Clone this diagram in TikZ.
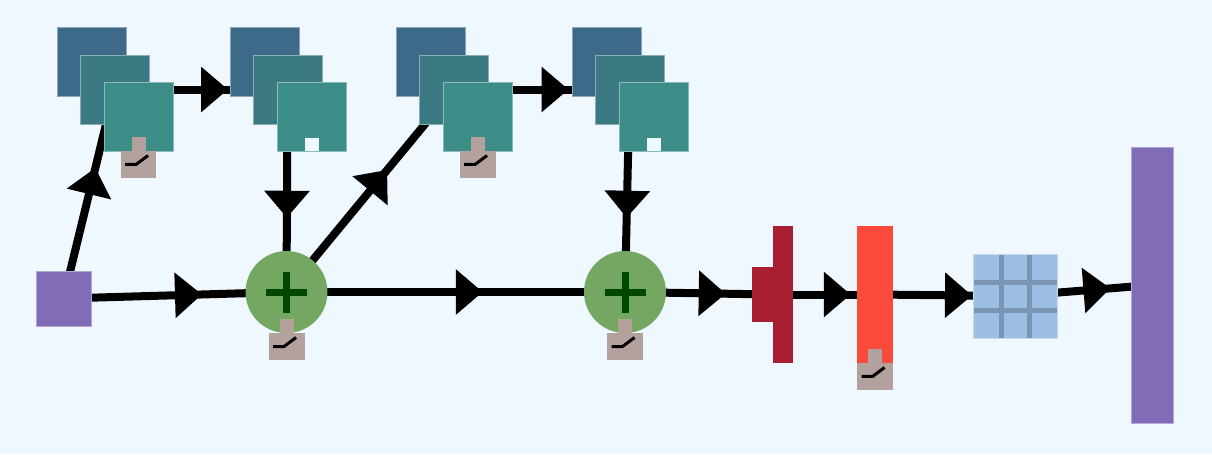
\documentclass[tikz,border=0pt]{standalone}
\usetikzlibrary{positioning,calc,arrows.meta,decorations.markings,backgrounds}

\definecolor{bgblue}{HTML}{F0F8FF}
\definecolor{convA}{HTML}{3D6A89}
\definecolor{convB}{HTML}{3B7983}
\definecolor{convC}{HTML}{3C8C87}
\definecolor{actgrey}{HTML}{B3A19E}
\definecolor{addgreen}{HTML}{74A862}
\definecolor{plusgreen}{HTML}{004800}
\definecolor{dropred}{HTML}{A81F32}
\definecolor{normred}{HTML}{F94A3B}
\definecolor{fcblue}{HTML}{9DBFE3}
\definecolor{fcline}{HTML}{7B96B5}
\definecolor{outpurple}{HTML}{806CB7}

\tikzset{
  block/.style={rectangle, inner sep=0pt, outer sep=0pt, line width=0.4pt},
  conva/.style={block, minimum size=1.38cm, fill=convA, draw=convA!60!white},
  convb/.style={block, minimum size=1.38cm, fill=convB, draw=convB!60!white},
  convc/.style={block, minimum size=1.38cm, fill=convC, draw=convC!60!white},
  notch/.style={block, minimum width=0.28cm, minimum height=0.27cm, fill=bgblue},
  actbody/.style={block, minimum width=0.72cm, minimum height=0.54cm, fill=actgrey},
  acttab/.style={block, minimum width=0.28cm, minimum height=0.28cm, fill=actgrey},
  reluline/.style={line width=0.06cm, black},
  plusline/.style={line width=0.14cm, plusgreen},
  addnode/.style={circle, inner sep=0pt, outer sep=0pt, minimum size=1.64cm, fill=addgreen,
    path picture={
      \draw[plusline] ($(path picture bounding box.center)+(-20.5,0)$) -- ++(41,0);
      \draw[plusline] ($(path picture bounding box.center)+(0,-20.5)$) -- ++(0,41);
    }},
  fcnode/.style={block, minimum size=1.68cm, fill=fcblue, draw=fcblue!60!white,
    path picture={
      \foreach \d in {-14,14} {
        \draw[fcline, line width=0.1cm] ($(path picture bounding box.center)+(\d,-42)$) -- ++(0,84);
        \draw[fcline, line width=0.1cm] ($(path picture bounding box.center)+(-42,\d)$) -- ++(84,0);
      }
    }},
  link/.style={line width=0.16cm, postaction={decorate},
    decoration={markings, mark=at position 0.5 with {\pgftransformxshift{0.54cm}\arrow{Triangle[length=0.54cm,width=0.88cm]}}}}
}

% three shifted squares, #2 is the centre of the middle one
\newcommand{\convstack}[2]{
   \node[conva] (#1a) at ($(#2)+(-23,-28)$) {};
   \node[convb] (#1b) at (#2) {};
   \node[convc] (#1c) at ($(#2)+(24,27)$) {};
}
% activation box hanging below #2
\newcommand{\actbox}[2]{
   \node[actbody, below=0pt of #2] (#1) {};
   \node[acttab, above=0pt of #1.north] (#1tab) {};
   \draw[reluline] ($(#1.center)+(-13.5,0)$) -- ++(11,0) -- ++(12,-9);
}

\begin{document}
\begin{tikzpicture}[x=0.02cm, y=-0.02cm]
		\useasboundingbox (0,0) rectangle (1212,454);
		
		% Input
		\node[block, minimum size=1.1cm, fill=outpurple, draw=outpurple!60!white] (in) at (63.5,298.5) {};
		
		% Conv stacks
		\convstack{sa}{114.5,89.5}
		\convstack{sb}{287.5,89.5}
		\convstack{sc}{453.5,89.5}
		\convstack{sd}{629.5,89.5}
		\actbox{acta}{sac.south}
		\node[notch, above=0pt of sbc.south] (notchb) {};
		\actbox{actc}{scc.south}
		\node[notch, above=0pt of sdc.south] (notchd) {};
		
		% Adds
		\node[addnode] (adda) at (286.5,292) {};
		\node[addnode] (addb) at (625,292) {};
		\actbox{actadda}{adda.south}
		\actbox{actaddb}{addb.south}
		
		% Dropout, norm, dense, output
		\node[block, minimum width=0.82cm, minimum height=1.1cm, fill=dropred] (drop) at (772.5,294.5) {};
		\node[block, minimum width=0.4cm, minimum height=2.76cm, fill=dropred, anchor=east] (dropbar) at (drop.east) {};
		\node[block, minimum width=0.72cm, minimum height=2.74cm, fill=normred] (norm) at (875,294.5) {};
		\actbox{actnorm}{norm.south}
		\node[fcnode] (fc) at (1015,296) {};
		\node[block, minimum width=0.84cm, minimum height=5.52cm, fill=outpurple, draw=outpurple!60!white] (out) at (1152,285) {};
		
		% Links
		\begin{pgfonlayer}{background}
			\fill[bgblue] (0,0) rectangle (1212,454);
			\foreach \a/\b in {in/sab, sab/sbb, sbb/adda, in/adda, adda/scb, scb/sdb, sdb/addb, adda/addb, addb/drop, drop/norm, norm/fc, fc/out}
				\draw[link] (\a.center) -- (\b.center);
		\end{pgfonlayer}
	\end{tikzpicture}
\end{document}
